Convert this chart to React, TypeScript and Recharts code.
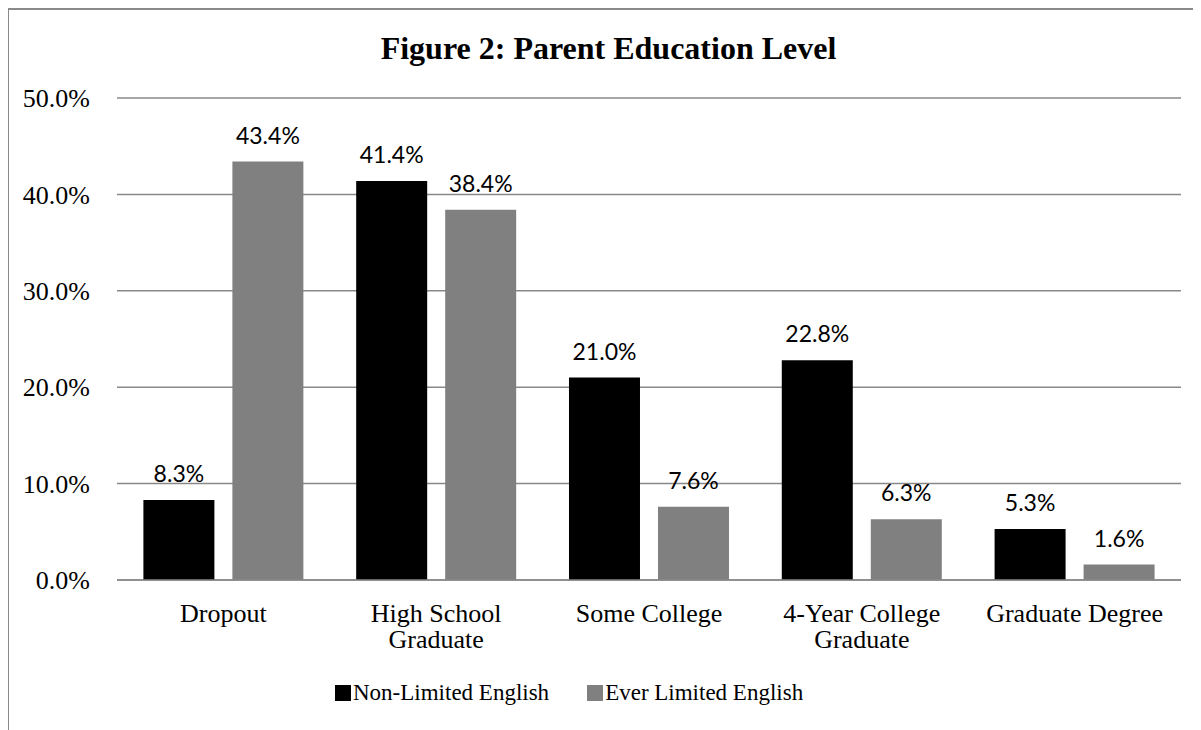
import React from "react";
import { BarChart, Bar, XAxis, YAxis, CartesianGrid, Legend, LabelList } from "recharts";

const categories = ["Dropout", "High School\nGraduate", "Some College", "4-Year College\nGraduate", "Graduate Degree"];
const nonLimited = [8.3, 41.4, 21.0, 22.8, 5.3];
const everLimited = [43.4, 38.4, 7.6, 6.3, 1.6];
const yTicks = [0, 10, 20, 30, 40, 50];
const seriesNames = ["Non-Limited English", "Ever Limited English"];
const seriesColors = ["#000000", "#808080"];
const title = "Figure 2: Parent Education Level";

const data = categories.map((c, i) => ({ name: c, a: nonLimited[i], b: everLimited[i] }));

const SERIF = "'Liberation Serif', 'Times New Roman', serif";
const SANS = "Lato, 'Open Sans', sans-serif";

const fmt = (v: number) => `${Number(v).toFixed(1)}%`;

const XTick = (props: any) => {
  const { x, y, payload } = props;
  const lines = String(payload.value).split("\n");
  return (
    <text x={x} y={y} textAnchor="middle" fontFamily={SERIF} fontSize={26} fill="#000">
      {lines.map((l, i) => (
        <tspan key={i} x={x} dy={i === 0 ? 42 : 26}>
          {l}
        </tspan>
      ))}
    </text>
  );
};

const LegendContent = (props: any) => {
  const items = [...(props.payload || [])].sort(
    (p: any, q: any) => seriesNames.indexOf(p.value) - seriesNames.indexOf(q.value)
  );
  return (
    <div style={{ display: "flex", alignItems: "center", height: 24 }}>
      {items.map((it: any, i: number) => (
        <div key={i} style={{ display: "flex", alignItems: "center", marginRight: 38 }}>
          <span style={{ display: "inline-block", width: 16, height: 16, background: it.color, marginRight: 2 }} />
          <span style={{ fontFamily: SERIF, fontSize: 23, lineHeight: "24px", color: "#000", whiteSpace: "nowrap" }}>{it.value}</span>
        </div>
      ))}
    </div>
  );
};

export default function App() {
  return (
    <div style={{ position: "relative", width: 1193, height: 722, overflow: "hidden", background: "#fff" }}>
      <div
        style={{
          position: "absolute",
          left: -1,
          top: 0,
          width: 1300,
          height: 800,
          border: "2px solid #8a8a8a",
          boxSizing: "border-box",
        }}
      />
      <div
        style={{
          position: "absolute",
          left: 0,
          top: 24,
          width: 1201,
          textAlign: "center",
          fontFamily: SERIF,
          fontWeight: "bold",
          fontSize: 32,
          lineHeight: "32px",
          color: "#000",
        }}
      >
        {title}
      </div>
      <div style={{ position: "absolute", left: 0, top: 0 }}>
        <BarChart
          width={1193}
          height={722}
          data={data}
          margin={{ top: 90, right: 20, left: 0, bottom: 90 }}
          barCategoryGap="12.4%"
          barGap={18}
        >
          <CartesianGrid vertical={false} stroke="#888888" strokeWidth={1.5} />
          <XAxis
            dataKey="name"
            height={60}
            interval={0}
            tick={<XTick />}
            tickLine={false}
            tickSize={0}
            tickMargin={0}
            axisLine={{ stroke: "#888888", strokeWidth: 1.5 }}
          />
          <YAxis
            width={109}
            domain={[0, 50]}
            ticks={yTicks}
            tickFormatter={fmt}
            axisLine={false}
            tickLine={false}
            tickSize={0}
            tickMargin={27}
            tick={{ fill: "#000", fontSize: 26, fontFamily: SERIF }}
          />
          <Legend
            layout="horizontal"
            verticalAlign="middle"
            align="center"
            content={<LegendContent />}
            wrapperStyle={{ left: 327, top: 673, width: 700 }}
          />
          <Bar dataKey="a" name={seriesNames[0]} fill={seriesColors[0]} isAnimationActive={false}>
            <LabelList dataKey="a" position="top" offset={18} formatter={fmt} fill="#000" fontSize={23} fontFamily={SANS} />
          </Bar>
          <Bar dataKey="b" name={seriesNames[1]} fill={seriesColors[1]} isAnimationActive={false}>
            <LabelList dataKey="b" position="top" offset={18} formatter={fmt} fill="#000" fontSize={23} fontFamily={SANS} />
          </Bar>
        </BarChart>
      </div>
    </div>
  );
}
